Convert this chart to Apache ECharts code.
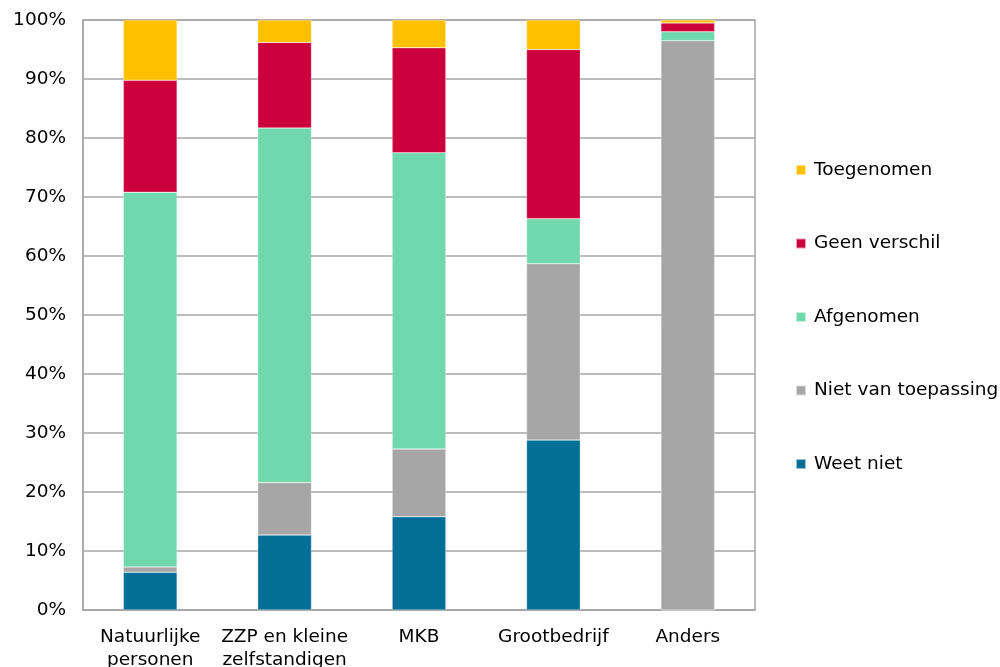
<!DOCTYPE html>
<html><head><meta charset="utf-8">
<script src="https://cdn.jsdelivr.net/npm/echarts@6/dist/echarts.min.js"></script>
<style>html,body{margin:0;padding:0;background:#fff}#c{width:1000px;height:667px}</style>
</head><body><div id="c"></div>
<script>
const categories = ['Natuurlijke\npersonen', 'ZZP en kleine\nzelfstandigen', 'MKB', 'Grootbedrijf', 'Anders'];
const weetNiet = [6.4, 12.7, 15.8, 28.8, 0];
const nietVanToepassing = [0.9, 8.9, 11.5, 29.9, 96.5];
const afgenomen = [63.5, 60.1, 50.2, 7.6, 1.5];
const geenVerschil = [19.0, 14.5, 17.8, 28.7, 1.5];
const toegenomen = [10.2, 3.8, 4.7, 5.0, 0.5];
const seriesNames = ['Weet niet', 'Niet van toepassing', 'Afgenomen', 'Geen verschil', 'Toegenomen'];
const colors = ['#046F96', '#A6A6A6', '#70D8AC', '#CC003D', '#FFC000'];
const values = [weetNiet, nietVanToepassing, afgenomen, geenVerschil, toegenomen];

const font = 'Verdana, "DejaVu Sans", sans-serif';
const chart = echarts.init(document.getElementById('c'));
chart.setOption({
  animation: false,
  color: colors,
  grid: {left: 83, right: 245, top: 20, bottom: 57, show: true, borderColor: '#A6A6A6', borderWidth: 1.5, outerBoundsMode: 'none', containLabel: false},
  legend: {
    orient: 'vertical', left: 795, top: 160, padding: 0,
    data: seriesNames.slice().reverse(),
    icon: 'rect', itemWidth: 10, itemHeight: 10, itemGap: 53.5,
    textStyle: {fontFamily: font, fontSize: 18.5, color: '#000', lineHeight: 20, padding: [0,0,0,3]}
  },
  xAxis: {
    type: 'category', data: categories,
    axisTick: {show: false},
    axisLine: {lineStyle: {color: '#A6A6A6', width: 1.5}},
    axisLabel: {fontFamily: font, fontSize: 18.5, color: '#000', lineHeight: 23, margin: 16, interval: 0}
  },
  yAxis: {
    type: 'value', min: 0, max: 100, interval: 10,
    axisLabel: {formatter: '{value}%', fontFamily: font, fontSize: 18.5, color: '#000', margin: 17},
    splitLine: {lineStyle: {color: '#A6A6A6', width: 1.5}},
    axisLine: {show: true, lineStyle: {color: '#A6A6A6', width: 1.5}}
  },
  series: seriesNames.map((n, i) => ({
    name: n, type: 'bar', stack: 'total', data: values[i],
    barWidth: '40%',
    itemStyle: {borderColor: 'rgba(255,255,255,0.6)', borderWidth: 0.5}
  }))
});
</script></body></html>
